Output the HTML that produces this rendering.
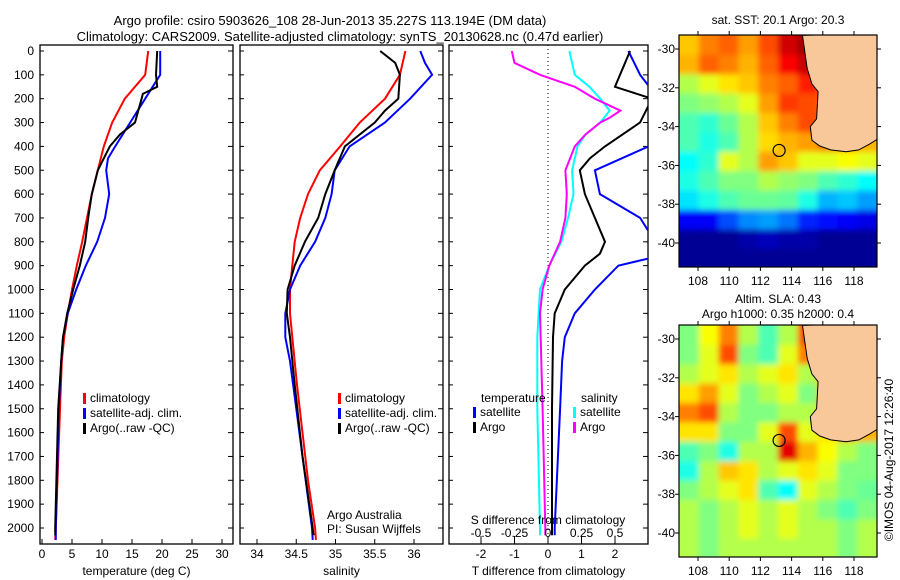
<!DOCTYPE html>
<html><head><meta charset="utf-8"><style>
html,body{margin:0;padding:0;background:#fff;}
svg{display:block;font-family:"Liberation Sans",sans-serif;}
</style></head><body>
<svg id="fig" width="900" height="580" viewBox="0 0 900 580">
<defs><filter id="soft" x="-5%" y="-5%" width="110%" height="110%"><feGaussianBlur stdDeviation="3"/></filter></defs>
<g id="titles">
<text x="330" y="25" text-anchor="middle" font-size="13">Argo profile: csiro 5903626_108 28-Jun-2013 35.227S 113.194E (DM data)</text>
<text x="340" y="41" text-anchor="middle" font-size="13">Climatology: CARS2009. Satellite-adjusted climatology: synTS_20130628.nc (0.47d earlier)</text>
</g>
</svg>
<script>
// ---------- data ----------
const depthTicks=[0,100,200,300,400,500,600,700,800,900,1000,1100,1200,1300,1400,1500,1600,1700,1800,1900,2000];
const tempTicks=[0,5,10,15,20,25,30];
const salTicks=[34,34.5,35,35.5,36];
const tdiffTicks=[-2,-1,0,1,2];
const sdiffTicks=[-0.5,-0.25,0,0.25,0.5];
const sdiffLabels=["-0.5","-0.25","0","0.25","0.5"];

const climTDepth=[0,100,200,300,400,500,600,700,800,900,1000,1100,1200,1300,1500,2000,2050];
const climT=[17.7,17.2,13.8,11.7,10.3,9.3,8.3,7.5,6.7,5.8,5.0,4.3,3.7,3.3,3.0,2.3,2.2];
const satTDepth=[0,100,200,300,400,450,500,600,700,800,900,1000,1100,1200,1300,1500,2000,2050];
const satT=[19.7,19.7,17.2,14.7,12.2,11.0,10.7,11.2,10.5,9.2,7.3,5.7,4.3,3.5,3.2,2.8,2.3,2.3];
const argoTDepth=[0,100,150,180,200,300,350,400,500,600,700,800,900,1000,1100,1200,1300,1500,2000,2030];
const argoT=[19.2,19.0,19.2,16.8,16.6,15.5,13.0,11.3,9.3,8.3,7.7,7.2,6.3,5.2,4.2,3.5,3.2,2.7,2.2,2.2];

const climSDepth=[0,100,200,300,400,500,600,700,800,900,1000,1100,1200,1400,1600,1800,2000,2050];
const climS=[35.89,35.82,35.63,35.31,35.06,34.80,34.65,34.55,34.48,34.45,34.42,34.42,34.45,34.51,34.58,34.65,34.74,34.75];
const satSDepth=[0,50,100,200,300,400,500,600,700,800,900,1000,1100,1200,1300,1500,1700,2000,2050];
const satS=[36.08,36.14,36.23,35.95,35.63,35.18,34.99,34.95,34.87,34.74,34.55,34.42,34.36,34.36,34.42,34.50,34.58,34.70,34.71];
const argoSDepth=[0,50,100,200,250,300,400,500,600,700,800,900,1000,1100,1200,1400,1700,2000,2030];
const argoS=[35.57,35.76,35.82,35.80,35.63,35.50,35.12,34.99,34.87,34.78,34.61,34.48,34.39,34.38,34.42,34.48,34.58,34.71,34.72];

const dTDepth=[0,100,200,300,400,500,600,700,800,870,900,1000,1100,1200,1300,1500,2000,2030];
const satDT=[2.4,2.75,3.3,3.2,3.0,1.4,1.55,2.75,3.2,3.0,2.1,1.4,0.8,0.5,0.42,0.36,0.2,0.2];
const argoDTDepth=[0,100,150,200,300,400,450,500,600,700,800,850,900,1000,1100,1200,1500,2000,2030];
const argoDT=[2.45,2.15,2.0,3.1,2.75,1.7,1.25,0.95,1.1,1.4,1.7,1.55,1.1,0.5,0.2,0.15,0.12,0.12,0.12];
const dSDepth=[0,100,150,200,250,300,350,400,450,500,600,700,800,900,1000,1100,1200,1500,2000,2030];
const satDS=[0.16,0.2,0.31,0.39,0.46,0.39,0.28,0.22,0.2,0.18,0.19,0.15,0.1,0.01,-0.06,-0.07,-0.08,-0.08,-0.06,-0.06];
const argoDSDepth=[0,50,100,150,200,250,280,300,350,400,500,600,700,800,900,1000,1100,1500,2000,2030];
const argoDS=[-0.27,-0.25,-0.06,0.2,0.35,0.54,0.46,0.39,0.28,0.2,0.13,0.14,0.13,0.09,0.01,-0.04,-0.06,-0.04,-0.02,-0.02];

// maps: rows lat -29.3..-41.3 (1 deg), cols lon 106.8..119.6 (1.28 deg); value 0..1 on jet, -1 land
const sstGrid=[
[0.68,0.75,0.78,0.72,0.80,0.92,0.97,0.9,-1,-1],
[0.70,0.78,0.75,0.70,0.78,0.88,0.93,0.85,-1,-1],
[0.55,0.60,0.65,0.68,0.75,0.78,0.85,0.8,-1,-1],
[0.50,0.52,0.55,0.60,0.72,0.82,0.80,0.78,-1,-1],
[0.45,0.42,0.48,0.55,0.68,0.75,0.80,0.8,-1,-1],
[0.45,0.40,0.45,0.55,0.66,0.70,0.72,0.75,0.72,0.7],
[0.38,0.42,0.60,0.55,0.72,0.68,0.60,0.60,0.62,0.6],
[0.40,0.45,0.50,0.50,0.55,0.52,0.50,0.45,0.42,0.38],
[0.35,0.40,0.45,0.48,0.48,0.47,0.40,0.30,0.32,0.28],
[0.12,0.12,0.20,0.26,0.28,0.24,0.16,0.14,0.12,0.10],
[0.02,0.02,0.02,0.04,0.06,0.04,0.04,0.02,0.02,0.02],
[0.02,0.02,0.02,0.02,0.02,0.02,0.02,0.02,0.02,0.02]];
const slaGrid=[
[0.50,0.62,0.75,0.55,0.45,0.55,0.80,0.70,-1,-1],
[0.50,0.60,0.80,0.50,0.45,0.60,0.75,0.72,-1,-1],
[0.55,0.60,0.65,0.55,0.60,0.65,0.55,0.70,-1,-1],
[0.65,0.72,0.60,0.50,0.55,0.60,0.50,0.72,-1,-1],
[0.75,0.80,0.55,0.50,0.50,0.55,0.55,0.70,-1,-1],
[0.65,0.65,0.50,0.50,0.60,0.80,0.60,0.65,0.70,0.7],
[0.45,0.50,0.40,0.55,0.55,0.90,0.70,0.62,0.55,0.5],
[0.40,0.55,0.68,0.65,0.55,0.60,0.65,0.60,0.50,0.5],
[0.50,0.55,0.60,0.65,0.45,0.38,0.60,0.55,0.50,0.48],
[0.55,0.50,0.55,0.60,0.55,0.60,0.55,0.50,0.45,0.5],
[0.55,0.50,0.55,0.60,0.55,0.60,0.55,0.55,0.50,0.55],
[0.55,0.50,0.55,0.55,0.55,0.55,0.55,0.55,0.50,0.55]];
const coastLon=[114.7,115.0,115.3,115.7,115.6,115.2,115.3,115.8,116.5,117.5,118.3,119.0,119.6];
const coastLat=[-29.3,-31.0,-31.8,-32.2,-33.6,-34.0,-34.7,-35.0,-35.2,-35.3,-35.2,-34.9,-34.6];
const mapLonTicks=[108,110,112,114,116,118];
const mapLatTicks=[-30,-32,-34,-36,-38,-40];
const argoLon=113.2, argoLat=-35.23;

// ---------- drawing ----------
const NS="http://www.w3.org/2000/svg";
const svg=document.getElementById('fig');
function mk(tag,attrs,parent){const e=document.createElementNS(NS,tag);for(const k in attrs)e.setAttribute(k,attrs[k]);(parent||svg).appendChild(e);return e;}
function txt(s,x,y,attrs,parent){const t=mk('text',Object.assign({x:x,y:y,'font-size':12},attrs||{}),parent);t.textContent=s;return t;}
const top0=45,bot0=544;
const yD=d=>51+d*0.2385;

function panel(name,x0,x1,xs,ticks,labels,title,leftLabels){
  const g=mk('g',{});
  
  
  const r=mk('rect',{x:x0,y:top0,width:x1-x0,height:bot0-top0,fill:'#fff',stroke:'#000','stroke-width':1.3},g);
  
  
  depthTicks.forEach(d=>{
    mk('line',{x1:x1,x2:x1-5,y1:yD(d),y2:yD(d),stroke:'#000'},g);
    mk('line',{x1:x0,x2:x0+4,y1:yD(d),y2:yD(d),stroke:'#000'},g);
    if(leftLabels){const t=txt(String(d),x0-6,yD(d)+4,{'text-anchor':'end'},g);
      
      }
  });
  ticks.forEach((v,i)=>{
    mk('line',{x1:xs(v),x2:xs(v),y1:bot0,y2:bot0-5,stroke:'#000'},g);
    const t=txt(labels[i],xs(v),558,{'text-anchor':'middle'},g);
    
    
  });
  const tt=txt(title,(x0+x1)/2,575,{'text-anchor':'middle'},g);
  
  
  const cp=mk('clipPath',{id:'cp-'+name},g);
  mk('rect',{x:x0,y:top0,width:x1-x0,height:bot0-top0},cp);
  return g;
}
function line(g,name,xs,depths,vals,color,clip){
  const pts=depths.map((d,i)=>xs(vals[i]).toFixed(1)+','+yD(d).toFixed(1)).join(' ');
  const p=mk('polyline',{points:pts,fill:'none',stroke:color,'stroke-width':2,'clip-path':'url(#cp-'+clip+')'},g);
  
  
}
function legend(g,x,y,items){
  items.forEach((it,i)=>{
    const m=mk('rect',{x:x,y:y+i*15-9,width:3,height:11,fill:it[1]},g);
    
    
    const t=txt(it[0],x+7,y+i*15,{},g);
    
    
  });
}
// panel 1
const xT=v=>42+v*6;
const g1=panel('temperature-panel',40,233,xT,tempTicks,tempTicks.map(String),'temperature (deg C)',true);
line(g1,'climatology-temp-line',xT,climTDepth,climT,'#f00','temperature-panel');
line(g1,'satellite-temp-line',xT,satTDepth,satT,'#00f','temperature-panel');
line(g1,'argo-temp-line',xT,argoTDepth,argoT,'#000','temperature-panel');
legend(g1,83,402,[['climatology','#f00'],['satellite-adj. clim.','#00f'],['Argo(..raw -QC)','#000']]);
// panel 2
const xS=v=>257+(v-34)*78.5;
const g2=panel('salinity-panel',240,443,xS,salTicks,salTicks.map(String),'salinity',false);
line(g2,'climatology-sal-line',xS,climSDepth,climS,'#f00','salinity-panel');
line(g2,'satellite-sal-line',xS,satSDepth,satS,'#00f','salinity-panel');
line(g2,'argo-sal-line',xS,argoSDepth,argoS,'#000','salinity-panel');
legend(g2,338,402,[['climatology','#f00'],['satellite-adj. clim.','#00f'],['Argo(..raw -QC)','#000']]);
let t;
t=txt('Argo Australia',327,519,{},g2);
t=txt('PI: Susan Wijffels',327,533,{},g2);
// panel 3
const xDT=v=>548+v*33.5, xDS=v=>548+v*134;
const g3=panel('difference-panel',449,648,xDT,tdiffTicks,tdiffTicks.map(String),'T difference from climatology',false);
mk('line',{x1:xDT(0),x2:xDT(0),y1:top0,y2:bot0,stroke:'#000','stroke-dasharray':'1,3'},g3);
line(g3,'satellite-salinity-diff-line',xDS,dSDepth,satDS,'#0ff','difference-panel');
line(g3,'argo-salinity-diff-line',xDS,argoDSDepth,argoDS,'#f0f','difference-panel');
line(g3,'satellite-temp-diff-line',xDT,dTDepth,satDT,'#00f','difference-panel');
line(g3,'argo-temp-diff-line',xDT,argoDTDepth,argoDT,'#000','difference-panel');
t=txt('temperature',481,402,{},g3);
t=txt('salinity',581,402,{},g3);
legend(g3,473,416,[['satellite','#00f'],['Argo','#000']]);
legend(g3,573,416,[['satellite','#0ff'],['Argo','#f0f']]);
t=txt('S difference from climatology',548,524,{'text-anchor':'middle'},g3);
sdiffTicks.forEach((v,i)=>{
  mk('line',{x1:xDS(v),x2:xDS(v),y1:536,y2:541,stroke:'#000'},g3);
  const tl=txt(sdiffLabels[i],xDS(v),537,{'text-anchor':'middle'},g3);
  
  
});

// maps
function jet(v){
  const r=Math.max(0,Math.min(1,Math.min(4*v-1.5,-4*v+4.5)));
  const g=Math.max(0,Math.min(1,Math.min(4*v-0.5,-4*v+3.5)));
  const b=Math.max(0,Math.min(1,Math.min(4*v+0.5,-4*v+2.5)));
  return 'rgb('+Math.round(r*255)+','+Math.round(g*255)+','+Math.round(b*255)+')';
}
function map(name,top,grid,titles,titleYs){
  const x0=679,x1=877,h=232;
  const lon=v=>698+(v-108)*15.6;
  const lat=v=>top+14+(-30-v)*19.4;
  const g=mk('g',{});
  
  
  const cid='cp-'+name;
  const cp=mk('clipPath',{id:cid},g);mk('rect',{x:x0,y:top,width:x1-x0,height:h},cp);
  const outer=mk('g',{'clip-path':'url(#'+cid+')'},g);
  const cg=mk('g',{filter:'url(#soft)'},outer);
  const cw=(x1-x0)/10;
  grid.forEach((row,i)=>row.forEach((v,j)=>{
    const c=mk('rect',{x:x0+j*cw-(j==0?8:0),y:lat(-29.3-i)-(i==0?8:0),width:cw+0.5+(j==0||j==9?8:0),height:19.9+(i==0||i==11?8:0),fill:v<0?'#f9c89a':jet(v)},cg);
    
    
  }));
  let pts=coastLon.map((v,i)=>lon(v).toFixed(1)+','+lat(coastLat[i]).toFixed(1));
  const land=mk('polygon',{fill:'#f9c89a',stroke:'#000','stroke-width':1},outer);
  land.setAttribute('points',pts.join(' ')+' '+(x1+2)+','+lat(-34.6)+' '+(x1+2)+','+(top-2));
  
  
  const cir=mk('circle',{cx:lon(argoLon),cy:lat(argoLat),r:6,fill:'none',stroke:'#000','stroke-width':1.2},g);
  
  
  mk('rect',{x:x0,y:top,width:x1-x0,height:h,fill:'none',stroke:'#000','stroke-width':1.2},g);
  mapLonTicks.forEach(v=>{
    mk('line',{x1:lon(v),x2:lon(v),y1:top,y2:top-4,stroke:'#000'},g);
    mk('line',{x1:lon(v),x2:lon(v),y1:top+h,y2:top+h+4,stroke:'#000'},g);
    const tl=txt(String(v),lon(v),top+h+18,{'text-anchor':'middle'},g);
    
    
  });
  mapLatTicks.forEach(v=>{
    mk('line',{x1:x0,x2:x0-4,y1:lat(v),y2:lat(v),stroke:'#000'},g);
    mk('line',{x1:x1,x2:x1+4,y1:lat(v),y2:lat(v),stroke:'#000'},g);
    const tl=txt(String(v),x0-4,lat(v)+4,{'text-anchor':'end'},g);
    
    
  });
  titles.forEach((s,i)=>{
    const tl=txt(s,778,titleYs[i],{'text-anchor':'middle'},g);
    
    
  });
}
map('sst-map',35,sstGrid,['sat. SST: 20.1 Argo: 20.3'],[24]);
map('sla-map',325,slaGrid,['Altim. SLA: 0.43','Argo h1000: 0.35 h2000: 0.4'],[303,318]);
t=txt('©IMOS 04-Aug-2017 12:26:40',0,0,{transform:'translate(893,460) rotate(-90)','text-anchor':'middle'});


</script>
</body></html>
